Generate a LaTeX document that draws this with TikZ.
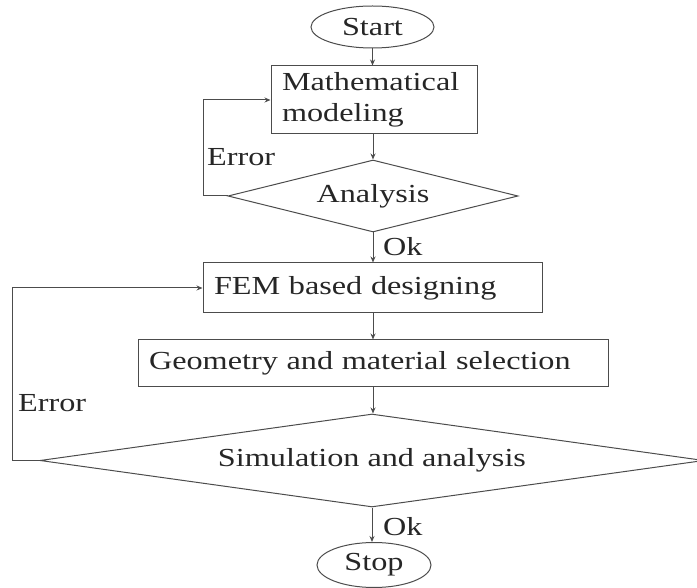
\documentclass[tikz,border=0pt]{standalone}
\usepackage{fontspec}
\setmainfont{Liberation Serif}[FakeStretch=1.24]
\usetikzlibrary{shapes.geometric,arrows.meta}
\begin{document}
\begin{tikzpicture}[x=1pt,y=-1pt,
  every node/.style={font=\fontsize{26}{31}\selectfont, text=black!85},
  line/.style={draw=black!70, line width=1pt},
  arr/.style={line, -{Stealth[length=6pt,width=5pt]}},
  term/.style={ellipse, line, inner sep=0pt},
  procbox/.style={rectangle, line, inner xsep=11pt, inner ysep=0pt, align=left},
  decide/.style={diamond, line, inner sep=0pt},
  lbl/.style={anchor=west, inner sep=0pt}]
\useasboundingbox (0,0) rectangle (697,588);
\node[term, minimum width=123pt, minimum height=42pt] (start) at (372.5,27) {Start};
\node[procbox, text width=184pt, minimum height=68pt] (mm) at (374,100) {Mathematical\\modeling};
\node[decide, shape aspect=4, minimum width=290pt, minimum height=72pt] (ana) at (373,196) {Analysis};
\node[procbox, text width=317pt, minimum height=50pt] (fem) at (372.5,288) {FEM based designing};
\node[procbox, text width=448pt, minimum height=47pt] (geo) at (373,363.5) {Geometry and material selection};
\node[decide, shape aspect=7, minimum width=664pt, minimum height=93pt] (sim) at (372,460.5) {Simulation and analysis};
\node[term, minimum width=114pt, minimum height=45pt] (stop) at (374,565) {Stop};
\node[lbl] (err1) at (207,157) {Error};
\node[lbl] (ok1) at (383,247) {Ok};
\node[lbl] (err2) at (18,403) {Error};
\node[lbl] (ok2) at (383,527) {Ok};
\coordinate (c1) at (203,196);
\coordinate (c2) at (12,460.5);
\draw[arr] (start.south) -- (start.south |- mm.north);
\draw[arr] (mm.south -| ana.north) -- (ana.north);
\draw[arr] (ana.south) -- (ana.south |- fem.north);
\draw[arr] (fem.south -| geo.north) -- (geo.north);
\draw[arr] (geo.south) -- (geo.south |- sim.north);
\draw[arr] (sim.south) -- (sim.south |- stop.north);
\draw[arr] (ana.west) -- (c1) |- (mm.west);
\draw[arr] (sim.west) -- (c2) |- (fem.west);
\end{tikzpicture}
\end{document}
